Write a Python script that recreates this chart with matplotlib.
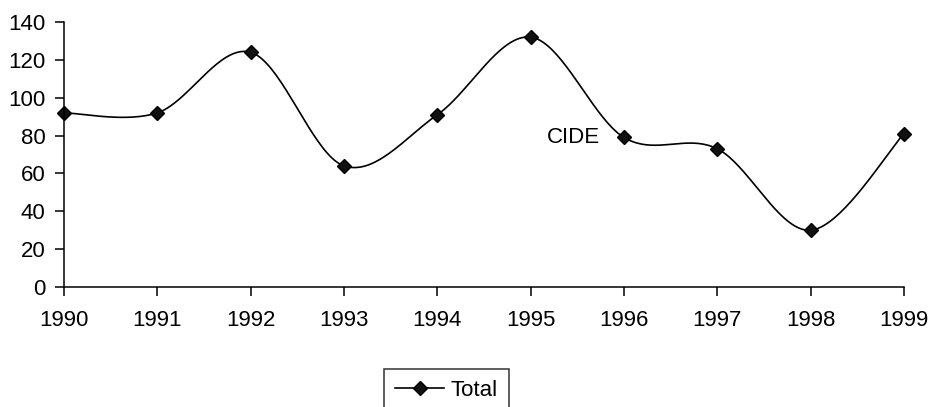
import numpy as np
import matplotlib
matplotlib.use("Agg")
import matplotlib.pyplot as plt
from matplotlib.lines import Line2D

years = [1990, 1991, 1992, 1993, 1994, 1995, 1996, 1997, 1998, 1999]
total = [92, 92, 124, 64, 91, 132, 79, 73, 30, 81]
series_name = "Total"
annotation = "CIDE"

plt.rcParams['font.family'] = ['Liberation Sans', 'DejaVu Sans']


def smooth(xs, ys, n=40):
    # Catmull-Rom style bezier smoothing (like spreadsheet "smoothed line")
    xs = np.asarray(xs, float)
    ys = np.asarray(ys, float)
    P = np.column_stack([xs, ys])
    out = []
    m = len(P)
    for i in range(m - 1):
        p0 = P[i - 1] if i > 0 else P[i]
        p1 = P[i]
        p2 = P[i + 1]
        p3 = P[i + 2] if i + 2 < m else P[i + 1]
        c1 = p1 + (p2 - p0) / 6.0
        c2 = p2 - (p3 - p1) / 6.0
        t = np.linspace(0, 1, n)[:, None]
        seg = ((1 - t) ** 3) * p1 + 3 * ((1 - t) ** 2) * t * c1 + 3 * (1 - t) * t ** 2 * c2 + t ** 3 * p2
        if i > 0:
            seg = seg[1:]
        out.append(seg)
    out = np.vstack(out)
    return out[:, 0], out[:, 1]


fig = plt.figure(figsize=(9.31, 4.07), dpi=100)
ax = fig.add_axes([64 / 931, 1 - 287 / 407, (904 - 64) / 931, (287 - 22) / 407])

sx, sy = smooth(years, total)
ax.plot(sx, sy, color='black', lw=1.2, clip_on=False)
ax.plot(years, total, linestyle='none', marker='D', markersize=7.5,
        color='#111111', markeredgecolor='black', clip_on=False)

ax.set_xlim(1990, 1999)
ax.set_ylim(0, 140)
ax.set_xticks(years)
ax.set_xticklabels([str(y) for y in years])
ax.set_yticks(np.arange(0, 141, 20))
for s in ['top', 'right']:
    ax.spines[s].set_visible(False)
for s in ['left', 'bottom']:
    ax.spines[s].set_linewidth(1.1)
ax.tick_params(axis='both', labelsize=16, length=6.5, width=1.1, direction='out')
ax.tick_params(axis='x', pad=10)
ax.tick_params(axis='y', pad=7)

ax.text(1995.175, 79, annotation, fontsize=16, va='center', ha='left')

handle = Line2D([], [], color='black', lw=1.2, marker='D', markersize=7.5,
                markerfacecolor='#111111', markeredgecolor='black')
leg = fig.legend([handle], [series_name], loc='upper left',
                 bbox_to_anchor=(384 / 931, 1 - 369 / 407), fontsize=16,
                 frameon=True, fancybox=False, handlelength=2.2,
                 borderpad=0.5, handletextpad=0.3, borderaxespad=0)
leg.get_frame().set_edgecolor('black')
leg.get_frame().set_linewidth(1.1)

fig.savefig('out.png', dpi=100)
